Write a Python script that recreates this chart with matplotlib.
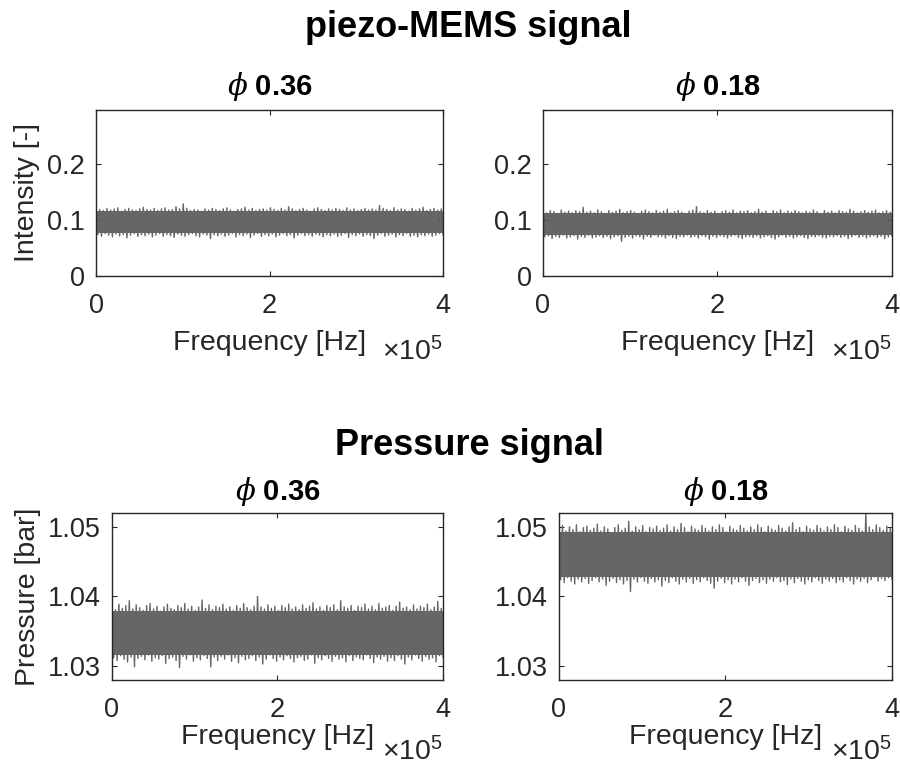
import numpy as np
import matplotlib
matplotlib.use("Agg")
import matplotlib.pyplot as plt

plt.rcParams["font.family"] = ["Liberation Sans", "DejaVu Sans"]
plt.rcParams["mathtext.fontset"] = "custom"
plt.rcParams["mathtext.rm"] = "Liberation Sans"
plt.rcParams["mathtext.it"] = "DejaVu Serif:italic"
plt.rcParams["mathtext.bf"] = "Liberation Sans:bold"

# ---------------------------------------------------------------------------
# Signal envelopes: successive local maxima / minima of each trace
# along the frequency axis (0 ... 4e5 Hz)
# ---------------------------------------------------------------------------
freq_max_hz = 4e5

mems_036_upper = [
    0.123, 0.119, 0.117, 0.121, 0.118, 0.120, 0.122, 0.116,
    0.119, 0.121, 0.118, 0.117, 0.120, 0.123, 0.119, 0.118,
    0.121, 0.117, 0.120, 0.122, 0.118, 0.119, 0.124, 0.120,
    0.129, 0.121, 0.117, 0.119, 0.118, 0.116, 0.120, 0.118,
    0.121, 0.119, 0.117, 0.120, 0.122, 0.118, 0.116, 0.119,
    0.120, 0.123, 0.118, 0.121, 0.117, 0.119, 0.120, 0.118,
    0.122, 0.119, 0.117, 0.121, 0.118, 0.124, 0.120, 0.117,
    0.119, 0.121, 0.118, 0.116, 0.120, 0.122, 0.119, 0.117,
    0.120, 0.118, 0.121, 0.119, 0.117, 0.122, 0.118, 0.120,
    0.117, 0.119, 0.121, 0.118, 0.120, 0.118, 0.126, 0.121,
    0.119, 0.117, 0.122, 0.118, 0.120, 0.119, 0.116, 0.121,
    0.118, 0.120, 0.123, 0.117, 0.119, 0.121, 0.118, 0.120]
mems_036_lower = [
    0.074, 0.071, 0.076, 0.073, 0.070, 0.075, 0.072, 0.074,
    0.068, 0.073, 0.076, 0.071, 0.074, 0.072, 0.075, 0.070,
    0.073, 0.076, 0.071, 0.074, 0.072, 0.069, 0.075, 0.073,
    0.071, 0.074, 0.076, 0.072, 0.070, 0.075, 0.073, 0.067,
    0.074, 0.072, 0.075, 0.071, 0.073, 0.076, 0.070, 0.074,
    0.072, 0.075, 0.069, 0.073, 0.076, 0.071, 0.074, 0.072,
    0.075, 0.070, 0.073, 0.076, 0.072, 0.074, 0.068, 0.073,
    0.076, 0.072, 0.074, 0.071, 0.075, 0.073, 0.070, 0.074,
    0.072, 0.075, 0.071, 0.073, 0.076, 0.069, 0.074, 0.072,
    0.075, 0.071, 0.074, 0.072, 0.067, 0.073, 0.076, 0.071,
    0.073, 0.075, 0.070, 0.074, 0.072, 0.076, 0.071, 0.073,
    0.070, 0.074, 0.072, 0.075, 0.071, 0.073, 0.076, 0.074]

mems_018_upper = [
    0.116, 0.113, 0.117, 0.115, 0.112, 0.118, 0.114, 0.116,
    0.113, 0.117, 0.115, 0.123, 0.114, 0.116, 0.113, 0.118,
    0.115, 0.112, 0.117, 0.114, 0.116, 0.119, 0.113, 0.115,
    0.117, 0.114, 0.112, 0.116, 0.118, 0.115, 0.113, 0.117,
    0.114, 0.116, 0.119, 0.113, 0.115, 0.117, 0.114, 0.112,
    0.116, 0.118, 0.124, 0.115, 0.113, 0.117, 0.114, 0.116,
    0.112, 0.115, 0.117, 0.114, 0.118, 0.113, 0.116, 0.115,
    0.117, 0.113, 0.115, 0.119, 0.114, 0.116, 0.112, 0.117,
    0.115, 0.118, 0.113, 0.116, 0.114, 0.117, 0.115, 0.113,
    0.116, 0.114, 0.118, 0.115, 0.112, 0.117, 0.114, 0.116,
    0.113, 0.117, 0.115, 0.114, 0.119, 0.116, 0.113, 0.115,
    0.117, 0.114, 0.116, 0.118, 0.113, 0.115, 0.117, 0.114]
mems_018_lower = [
    0.070, 0.072, 0.067, 0.071, 0.069, 0.073, 0.068, 0.070,
    0.072, 0.066, 0.071, 0.069, 0.073, 0.068, 0.070, 0.072,
    0.069, 0.071, 0.067, 0.070, 0.072, 0.062, 0.069, 0.071,
    0.068, 0.072, 0.070, 0.066, 0.071, 0.069, 0.073, 0.070,
    0.071, 0.068, 0.072, 0.069, 0.067, 0.071, 0.070, 0.073,
    0.069, 0.071, 0.068, 0.072, 0.070, 0.066, 0.071, 0.069,
    0.072, 0.070, 0.068, 0.071, 0.073, 0.069, 0.067, 0.070,
    0.071, 0.069, 0.072, 0.068, 0.070, 0.072, 0.069, 0.066,
    0.070, 0.073, 0.069, 0.071, 0.068, 0.070, 0.072, 0.069,
    0.067, 0.071, 0.070, 0.072, 0.069, 0.068, 0.071, 0.070,
    0.072, 0.069, 0.071, 0.067, 0.070, 0.073, 0.069, 0.071,
    0.068, 0.070, 0.072, 0.069, 0.071, 0.067, 0.070, 0.072]

pressure_036_upper = [
    1.0386, 1.0381, 1.0389, 1.0383, 1.0387, 1.0394, 1.0382, 1.0388,
    1.0384, 1.0380, 1.0387, 1.0390, 1.0382, 1.0386, 1.0379, 1.0385,
    1.0389, 1.0383, 1.0381, 1.0387, 1.0384, 1.0390, 1.0382, 1.0386,
    1.0380, 1.0385, 1.0395, 1.0383, 1.0388, 1.0381, 1.0386, 1.0384,
    1.0389, 1.0382, 1.0385, 1.0380, 1.0387, 1.0383, 1.0390, 1.0384,
    1.0381, 1.0386, 1.0400, 1.0385, 1.0382, 1.0388, 1.0383, 1.0386,
    1.0380, 1.0387, 1.0384, 1.0389, 1.0382, 1.0385, 1.0381, 1.0388,
    1.0383, 1.0386, 1.0391, 1.0382, 1.0385, 1.0380, 1.0387, 1.0384,
    1.0388, 1.0381, 1.0394, 1.0385, 1.0383, 1.0387, 1.0380, 1.0386,
    1.0384, 1.0389, 1.0382, 1.0386, 1.0381, 1.0390, 1.0383, 1.0385,
    1.0387, 1.0380, 1.0386, 1.0392, 1.0383, 1.0385, 1.0381, 1.0388,
    1.0382, 1.0386, 1.0384, 1.0389, 1.0381, 1.0385, 1.0393, 1.0383]
pressure_036_lower = [
    1.0312, 1.0308, 1.0315, 1.0310, 1.0306, 1.0313, 1.0299, 1.0311,
    1.0314, 1.0309, 1.0316, 1.0307, 1.0312, 1.0310, 1.0315, 1.0304,
    1.0311, 1.0313, 1.0308, 1.0298, 1.0314, 1.0310, 1.0316, 1.0307,
    1.0312, 1.0309, 1.0315, 1.0311, 1.0299, 1.0313, 1.0308, 1.0314,
    1.0310, 1.0316, 1.0307, 1.0312, 1.0305, 1.0314, 1.0309, 1.0311,
    1.0315, 1.0308, 1.0313, 1.0303, 1.0310, 1.0316, 1.0311, 1.0307,
    1.0313, 1.0309, 1.0315, 1.0311, 1.0306, 1.0312, 1.0314, 1.0308,
    1.0310, 1.0316, 1.0304, 1.0312, 1.0309, 1.0315, 1.0311, 1.0307,
    1.0314, 1.0310, 1.0312, 1.0306, 1.0315, 1.0308, 1.0313, 1.0311,
    1.0309, 1.0316, 1.0311, 1.0305, 1.0313, 1.0310, 1.0314, 1.0307,
    1.0312, 1.0308, 1.0315, 1.0310, 1.0303, 1.0313, 1.0309, 1.0316,
    1.0311, 1.0307, 1.0314, 1.0310, 1.0312, 1.0306, 1.0315, 1.0313]

pressure_018_upper = [
    1.0498, 1.0502, 1.0494, 1.0500, 1.0496, 1.0503, 1.0493, 1.0499,
    1.0501, 1.0495, 1.0498, 1.0504, 1.0494, 1.0500, 1.0497, 1.0492,
    1.0499, 1.0503, 1.0495, 1.0498, 1.0508, 1.0494, 1.0500, 1.0496,
    1.0502, 1.0493, 1.0499, 1.0497, 1.0501, 1.0495, 1.0498, 1.0503,
    1.0494, 1.0500, 1.0496, 1.0505, 1.0499, 1.0493, 1.0501, 1.0497,
    1.0495, 1.0502, 1.0498, 1.0494, 1.0500, 1.0496, 1.0503, 1.0499,
    1.0493, 1.0501, 1.0497, 1.0495, 1.0502, 1.0498, 1.0494, 1.0500,
    1.0496, 1.0503, 1.0499, 1.0493, 1.0501, 1.0497, 1.0495, 1.0502,
    1.0498, 1.0494, 1.0500, 1.0506, 1.0496, 1.0499, 1.0493, 1.0501,
    1.0497, 1.0495, 1.0502, 1.0498, 1.0494, 1.0500, 1.0496, 1.0503,
    1.0499, 1.0493, 1.0501, 1.0497, 1.0495, 1.0502, 1.0498, 1.0494,
    1.0520, 1.0500, 1.0496, 1.0503, 1.0499, 1.0495, 1.0501, 1.0498]
pressure_018_lower = [
    1.0424, 1.0420, 1.0427, 1.0422, 1.0418, 1.0425, 1.0421, 1.0426,
    1.0419, 1.0423, 1.0427, 1.0421, 1.0425, 1.0416, 1.0422, 1.0426,
    1.0420, 1.0424, 1.0418, 1.0423, 1.0407, 1.0425, 1.0421, 1.0427,
    1.0422, 1.0419, 1.0426, 1.0421, 1.0424, 1.0415, 1.0423, 1.0420,
    1.0427, 1.0422, 1.0418, 1.0425, 1.0421, 1.0426, 1.0419, 1.0424,
    1.0421, 1.0427, 1.0423, 1.0419, 1.0412, 1.0422, 1.0426, 1.0420,
    1.0424, 1.0418, 1.0425, 1.0421, 1.0427, 1.0422, 1.0416, 1.0423,
    1.0426, 1.0420, 1.0424, 1.0419, 1.0425, 1.0422, 1.0427, 1.0421,
    1.0423, 1.0417, 1.0425, 1.0420, 1.0426, 1.0422, 1.0418, 1.0424,
    1.0421, 1.0427, 1.0423, 1.0419, 1.0425, 1.0422, 1.0426, 1.0420,
    1.0424, 1.0421, 1.0427, 1.0423, 1.0418, 1.0425, 1.0422, 1.0426,
    1.0420, 1.0424, 1.0428, 1.0422, 1.0426, 1.0423, 1.0427, 1.0425]

panel_titles = ["0.36", "0.18"]
row_titles = ["piezo-MEMS signal", "Pressure signal"]
x_ticks = [0, 2e5, 4e5]
x_tick_labels = ["0", "2", "4"]
mems_ticks = [0, 0.1, 0.2]
mems_tick_labels = ["0", "0.1", "0.2"]
pressure_ticks = [1.03, 1.04, 1.05]
pressure_tick_labels = ["1.03", "1.04", "1.05"]

TRACE = "#666666"
AXIS = "#262626"

fig = plt.figure(figsize=(9.0, 7.67), dpi=100)

# axes rectangles [left, bottom, width, height] in figure fraction
rects = {
    (0, 0): [0.1067, 0.6402, 0.3856, 0.2164],
    (0, 1): [0.6033, 0.6402, 0.3878, 0.2164],
    (1, 0): [0.1244, 0.1134, 0.3678, 0.2178],
    (1, 1): [0.6211, 0.1134, 0.3700, 0.2178],
}

series = {
    (0, 0): (mems_036_upper, mems_036_lower),
    (0, 1): (mems_018_upper, mems_018_lower),
    (1, 0): (pressure_036_upper, pressure_036_lower),
    (1, 1): (pressure_018_upper, pressure_018_lower),
}


def draw_trace(ax, upper, lower):
    upper = np.asarray(upper)
    lower = np.asarray(lower)
    trace = np.column_stack((upper, lower)).ravel()
    freq = np.linspace(0, freq_max_hz, trace.size)
    # dense core of the oscillating trace
    ax.fill_between(freq, lower.max(), upper.min(), color=TRACE, lw=0)
    ax.plot(freq, trace, color=TRACE, lw=1.0)


for (r, c), rect in rects.items():
    ax = fig.add_axes(rect)
    up, lo = series[(r, c)]
    draw_trace(ax, up, lo)
    ax.set_xlim(0, freq_max_hz)
    ax.set_xticks(x_ticks)
    ax.set_xticklabels(x_tick_labels)
    if r == 0:
        ax.set_ylim(0, 0.297)
        ax.set_yticks(mems_ticks)
        ax.set_yticklabels(mems_tick_labels)
    else:
        ax.set_ylim(1.028, 1.052)
        ax.set_yticks(pressure_ticks)
        ax.set_yticklabels(pressure_tick_labels)

    for sp in ax.spines.values():
        sp.set_color(AXIS)
        sp.set_linewidth(1.0)
    ax.tick_params(direction="in", length=3.5, width=0.8, color=AXIS,
                   labelcolor=AXIS, labelsize=19.5, top=True, right=True)
    ax.tick_params(axis="x", pad=12 if r == 0 else 12.5)
    ax.tick_params(axis="y", pad=8)

    ax.set_title(r"$\phi$ " + panel_titles[c], fontsize=21, fontweight="bold",
                 color="black", pad=10.5 if r == 0 else 9.5)

    ax.set_xlabel("Frequency [Hz]", fontsize=20.5, color=AXIS)
    ax.xaxis.label.set_va("baseline")
    ax.xaxis.set_label_coords(0.5, -0.446 if r == 0 else -0.38)
    ax.text(1.0, -0.506 if r == 0 else -0.481, r"$\times$10$^{5}$",
            transform=ax.transAxes, ha="right", va="baseline",
            fontsize=20.5, color=AXIS)

    if c == 0:
        ax.set_ylabel("Intensity [-]" if r == 0 else "Pressure [bar]",
                      fontsize=20.5, color=AXIS)
        ax.yaxis.label.set_va("baseline")
        ax.yaxis.set_label_coords(-0.179 if r == 0 else -0.233, 0.5)

fig.text(0.52, 0.9518, row_titles[0], ha="center", va="baseline",
         fontsize=26, fontweight="bold", color="black")
fig.text(0.522, 0.4068, row_titles[1], ha="center", va="baseline",
         fontsize=26, fontweight="bold", color="black")

fig.savefig("out.png", dpi=100, facecolor="white")
